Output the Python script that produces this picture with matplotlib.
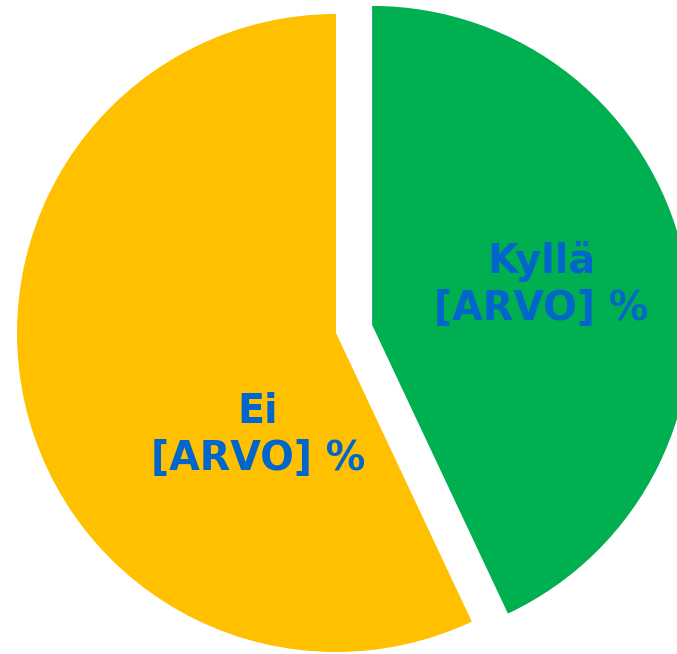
import matplotlib
matplotlib.use("Agg")
import matplotlib.pyplot as plt

categories = ["Kyllä", "Ei"]
values = [43, 57]
labels = ["Kyllä\n[ARVO] %", "Ei\n[ARVO] %"]
colors = ["#00B050", "#FFC000"]
explode = [0.116, 0.0]

fig = plt.figure(figsize=(6.77, 6.54), dpi=100)
ax = fig.add_axes([0, 0, 1, 1])
wedges, _ = ax.pie(values, colors=colors, explode=explode, startangle=90,
                   counterclock=False, radius=1.0,
                   wedgeprops=dict(linewidth=0))

R = 319.0
cx, cy = 336.0, 333.0
ax.set_aspect("auto")
ax.set_xlim(-cx / R, (677 - cx) / R)
ax.set_ylim(-(654 - cy) / R, cy / R)
ax.axis("off")

label_pos = [(0.643, 0.150), (-0.245, -0.322)]
for lab, (x, y) in zip(labels, label_pos):
    ax.text(x, y, lab, ha="center", va="center", fontsize=28.5,
            fontweight="bold", color="#0066CC", family="DejaVu Sans",
            linespacing=1.22)

fig.savefig("out.png", dpi=100)
